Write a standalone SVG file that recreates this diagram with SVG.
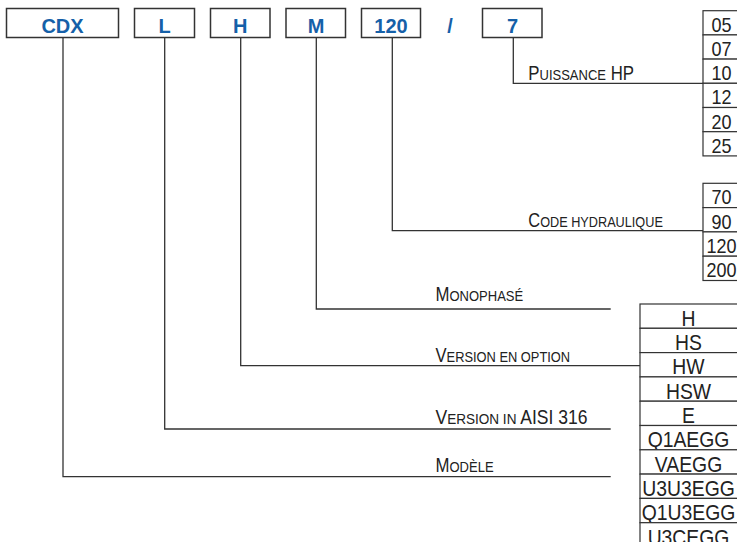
<svg xmlns="http://www.w3.org/2000/svg" width="737" height="542" viewBox="0 0 737 542">
<style>
.box{fill:#fff;stroke:#333;stroke-width:1.5}
.code{font-family:"Liberation Sans",Arial,sans-serif;font-weight:bold;font-size:20px;fill:#1560a8;text-anchor:middle}
.wire{fill:none;stroke:#333;stroke-width:1.3}
.lbl{font-family:"Liberation Sans",Arial,sans-serif;fill:#222;font-size:20px}
.sc{font-size:15.5px}
.cell{fill:#fff;stroke:#333;stroke-width:1.2}
.num{font-family:"Liberation Sans",Arial,sans-serif;fill:#222;font-size:20px;text-anchor:middle}
.opt{font-family:"Liberation Sans",Arial,sans-serif;fill:#222;font-size:22px;text-anchor:middle}
</style>
<rect width="737" height="542" fill="#fff"/>
<g id="connectors">
<polyline class="wire" points="513.3,37.7 513.3,83.3 703,83.3"/>
<polyline class="wire" points="392.3,37.7 392.3,230.7 703,230.7"/>
<polyline class="wire" points="316.3,37.7 316.3,309 610.7,309"/>
<polyline class="wire" points="240.7,37.7 240.7,365.7 640,365.7"/>
<polyline class="wire" points="164.7,37.7 164.7,429 610.7,429"/>
<polyline class="wire" points="63,37.7 63,476.7 610.7,476.7"/>
<text class="lbl" transform="translate(528.3,79.5) scale(0.84,1)">P<tspan class="sc">UISSANCE</tspan> HP</text>
<text class="lbl" transform="translate(528.3,226.7) scale(0.82,1)">C<tspan class="sc">ODE HYDRAULIQUE</tspan></text>
<text class="lbl" transform="translate(435.5,300.5) scale(0.84,1)">M<tspan class="sc">ONOPHASÉ</tspan></text>
<text class="lbl" transform="translate(435.5,361.5) scale(0.83,1)">V<tspan class="sc">ERSION EN OPTION</tspan></text>
<text class="lbl" transform="translate(435.5,423.5) scale(0.875,1)">V<tspan class="sc">ERSION IN</tspan> AISI 316</text>
<text class="lbl" transform="translate(435.5,471.5) scale(0.84,1)">M<tspan class="sc">ODÈLE</tspan></text>
</g>
<g id="node-cdx"><rect class="box" x="6.5" y="8.5" width="112" height="29"/><text class="code" x="62.5" y="33">CDX</text></g>
<g id="node-l"><rect class="box" x="134.5" y="8.5" width="60" height="29"/><text class="code" x="164.5" y="33">L</text></g>
<g id="node-h"><rect class="box" x="210.5" y="8.5" width="59.5" height="29"/><text class="code" x="240.3" y="33">H</text></g>
<g id="node-m"><rect class="box" x="286" y="8.5" width="59.5" height="29"/><text class="code" x="316" y="33">M</text></g>
<g id="node-120"><rect class="box" x="361.5" y="8.5" width="59" height="29"/><text class="code" x="391" y="33">120</text></g>
<g id="node-slash"><text class="code" x="450" y="33">/</text></g>
<g id="node-7"><rect class="box" x="482.5" y="8.5" width="59.5" height="29"/><text class="code" x="512.5" y="33">7</text></g>
<g id="node-power">
<rect class="cell" x="703" y="10.7" width="40" height="24.2"/><text class="num" transform="translate(721.5,31.8) scale(0.9,1)">05</text>
<rect class="cell" x="703" y="34.9" width="40" height="24.2"/><text class="num" transform="translate(721.5,56) scale(0.9,1)">07</text>
<rect class="cell" x="703" y="59.1" width="40" height="24.2"/><text class="num" transform="translate(721.5,80.2) scale(0.9,1)">10</text>
<rect class="cell" x="703" y="83.3" width="40" height="24.2"/><text class="num" transform="translate(721.5,104.4) scale(0.9,1)">12</text>
<rect class="cell" x="703" y="107.5" width="40" height="24.2"/><text class="num" transform="translate(721.5,128.6) scale(0.9,1)">20</text>
<rect class="cell" x="703" y="131.7" width="40" height="24.2"/><text class="num" transform="translate(721.5,152.8) scale(0.9,1)">25</text>
</g>
<g id="node-hydraulic">
<rect class="cell" x="703" y="183.3" width="40" height="24.3"/><text class="num" transform="translate(721.5,204.4) scale(0.9,1)">70</text>
<rect class="cell" x="703" y="207.6" width="40" height="24.3"/><text class="num" transform="translate(721.5,228.7) scale(0.9,1)">90</text>
<rect class="cell" x="703" y="231.9" width="40" height="24.3"/><text class="num" transform="translate(721.5,253) scale(0.9,1)">120</text>
<rect class="cell" x="703" y="256.2" width="40" height="24.3"/><text class="num" transform="translate(721.5,277.3) scale(0.9,1)">200</text>
</g>
<g id="node-options">
<rect class="cell" x="640" y="304" width="100" height="24.3"/><text class="opt" transform="translate(688.5,325.8) scale(0.88,1)">H</text>
<rect class="cell" x="640" y="328.3" width="100" height="24.3"/><text class="opt" transform="translate(688.5,350.1) scale(0.88,1)">HS</text>
<rect class="cell" x="640" y="352.6" width="100" height="24.3"/><text class="opt" transform="translate(688.5,374.4) scale(0.88,1)">HW</text>
<rect class="cell" x="640" y="376.9" width="100" height="24.3"/><text class="opt" transform="translate(688.5,398.7) scale(0.88,1)">HSW</text>
<rect class="cell" x="640" y="401.2" width="100" height="24.3"/><text class="opt" transform="translate(688.5,423) scale(0.88,1)">E</text>
<rect class="cell" x="640" y="425.5" width="100" height="24.3"/><text class="opt" transform="translate(688.5,447.3) scale(0.88,1)">Q1AEGG</text>
<rect class="cell" x="640" y="449.8" width="100" height="24.3"/><text class="opt" transform="translate(688.5,471.6) scale(0.88,1)">VAEGG</text>
<rect class="cell" x="640" y="474.1" width="100" height="24.3"/><text class="opt" transform="translate(688.5,495.9) scale(0.88,1)">U3U3EGG</text>
<rect class="cell" x="640" y="498.4" width="100" height="24.3"/><text class="opt" transform="translate(688.5,520.2) scale(0.88,1)">Q1U3EGG</text>
<rect class="cell" x="640" y="522.7" width="100" height="24.3"/><text class="opt" transform="translate(688.5,544.5) scale(0.88,1)">U3CEGG</text>
</g>
</svg>
